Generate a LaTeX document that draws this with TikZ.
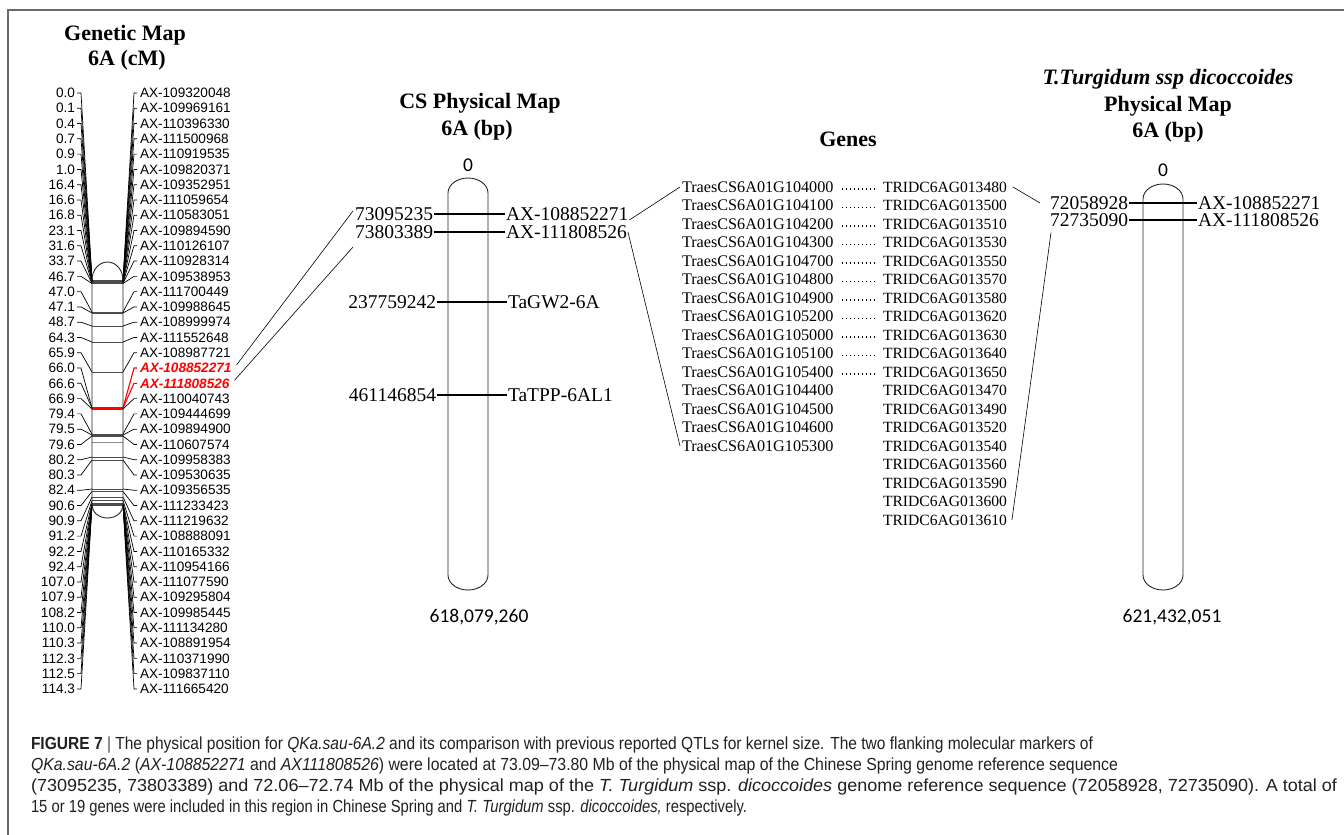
\documentclass[tikz,border=0pt]{standalone}
\usepackage{fontspec}
\usepackage{graphicx}
\setmainfont{Liberation Serif}
\newfontfamily\arialf{Liberation Sans}
\newfontfamily\calf{Carlito}
\newsavebox\capbox
\newcommand{\fitto}[2]{\sbox\capbox{#2}\pgfmathsetmacro{\fitsc}{#1/\the\wd\capbox}\scalebox{\fitsc}[1]{\usebox\capbox}}
\definecolor{framec}{HTML}{6A6A6A}
\definecolor{capc}{HTML}{231F20}
\tikzset{
 gtitle/.style={font=\fontsize{22}{26}\selectfont\bfseries},
 gmlab/.style={font=\arialf\fontsize{13.6}{14}\selectfont},
 gmred/.style={font=\arialf\fontsize{13.6}{14}\selectfont\bfseries\itshape, text=red},
 conn/.style={line width=0.7pt},
 redconn/.style={line width=1.1pt, draw=red},
 band/.style={draw=black!70, line width=0.7pt},
 pmlab/.style={font=\fontsize{19.5}{20}\selectfont},
 pmline/.style={line width=1.8pt},
 geneL/.style={font=\fontsize{16.2}{17}\selectfont},
 geneR/.style={font=\fontsize{15.6}{17}\selectfont},
 genedots/.style={line width=1.5pt, dash pattern=on 1.5pt off 2.5pt},
 chrom/.style={draw=black!85, line width=0.9pt},
 ends/.style={font=\calf\fontsize{19.5}{20}\selectfont},
 link/.style={line width=0.6pt},
 captxt/.style={font=\arialf\fontsize{17.5}{19}\selectfont, text=capc, anchor=base west},
}
\begin{document}
\begin{tikzpicture}[x=1pt,y=-1pt, every node/.style={inner sep=0pt, outer sep=0pt}]
\useasboundingbox (0,0) rectangle (1344,835);
\draw[framec, line width=1.2pt] (1344,10) -- (8,10) -- (8,835);

% ---------- Genetic map ----------
\node[gtitle] (gmt1) at (125,35) {Genetic Map};
\node[gtitle] (gmt2) at (127,60) {6A (cM)};

\foreach \cm/\ax/\p [count=\i from 0] in {
0.0/AX-109320048/280.5, 0.1/AX-109969161/280.75, 0.4/AX-110396330/281, 0.7/AX-111500968/281.25,
0.9/AX-110919535/281.5, 1.0/AX-109820371/281.75, 16.4/AX-109352951/282, 16.6/AX-111059654/282.25,
16.8/AX-110583051/282.5, 23.1/AX-109894590/282.75, 31.6/AX-110126107/283, 33.7/AX-110928314/283.25,
46.7/AX-109538953/283.5, 47.0/AX-111700449/312, 47.1/AX-109988645/313, 48.7/AX-108999974/326,
64.3/AX-111552648/342, 65.9/AX-108987721/372, 66.0/AX-108852271/408, 66.6/AX-111808526/408,
66.9/AX-110040743/409, 79.4/AX-109444699/434, 79.5/AX-109894900/435, 79.6/AX-110607574/436,
80.2/AX-109958383/457, 80.3/AX-109530635/460, 82.4/AX-109356535/489, 90.6/AX-111233423/491.5,
90.9/AX-111219632/497, 91.2/AX-108888091/500.5, 92.2/AX-110165332/503, 92.4/AX-110954166/504,
107.0/AX-111077590/504.5, 107.9/AX-109295804/505, 108.2/AX-109985445/505, 110.0/AX-111134280/505,
110.3/AX-108891954/505, 112.3/AX-110371990/505, 112.5/AX-109837110/505, 114.3/AX-111665420/505}{
  \pgfmathsetmacro\yy{93+15.28*\i}
  \def\st{gmlab}\def\cst{conn}
  \ifnum\i=18 \def\st{gmred}\def\cst{redconn}\fi
  \ifnum\i=19 \def\st{gmred}\def\cst{redconn}\fi
  \node[gmlab, anchor=east] (L\i) at (75,\yy) {\cm};
  \node[\st, anchor=west] (R\i) at (140,\yy) {\ax};
  \coordinate (cl\i) at (92,\p);
  \coordinate (cr\i) at (123,\p);
  \draw[band] (cl\i) -- (cr\i);
  \draw[conn] ([xshift=2pt]L\i.east) -- ++(4,0) -- (cl\i);
  \draw[\cst] ([xshift=-3pt]R\i.west) -- ++(-3,0) -- (cr\i);
}
\coordinate (ex1) at (92,442); \coordinate (ex2) at (123,442);
\draw[band, draw=black!45] (ex1) -- (ex2);
\draw[red, line width=2.2pt] (cl19) -- (cr19);
\draw[chrom] (92,505) -- (92,280) arc[start angle=180,end angle=360,x radius=15.5,y radius=18]
  -- (123,505) arc[start angle=0,end angle=180,x radius=15.5,y radius=13];

% ---------- CS physical map ----------
\node[gtitle] (cst1) at (480,103) {CS Physical Map};
\node[gtitle] (cst2) at (477,130) {6A (bp)};
\draw[chrom] (448,575) -- (448,193) arc[start angle=180,end angle=360,x radius=20,y radius=15]
  -- (488,575) arc[start angle=0,end angle=180,x radius=20,y radius=15];
\node[ends] (cs0) at (468,165) {0};
\node[ends] (csend) at (479,617) {618,079,260};

\node[pmlab, anchor=east] (cs1l) at (433,214) {73095235};
\node[pmlab, anchor=west] (cs1r) at (506,214) {AX-108852271};
\node[pmlab, anchor=east] (cs2l) at (433,232) {73803389};
\node[pmlab, anchor=west] (cs2r) at (506,232) {AX-111808526};
\node[pmlab, anchor=east] (cs3l) at (436,302) {237759242};
\node[pmlab, anchor=west] (cs3r) at (508,302) {TaGW2-6A};
\node[pmlab, anchor=east] (cs4l) at (436,395) {461146854};
\node[pmlab, anchor=west] (cs4r) at (508,395) {TaTPP-6AL1};
\draw[pmline] ([xshift=1pt]cs1l.east) -- ([xshift=-1pt]cs1r.west);
\draw[pmline] ([xshift=1pt]cs2l.east) -- ([xshift=-1pt]cs2r.west);
\draw[pmline] ([xshift=1pt]cs3l.east) -- ([xshift=-1pt]cs3r.west);
\draw[pmline] ([xshift=1pt]cs4l.east) -- ([xshift=-1pt]cs4r.west);

% links genetic -> CS
\draw[link] ([xshift=5pt,yshift=3pt]R18.east) -- ([xshift=-2pt,yshift=3pt]cs1l.west);
\draw[link] ([xshift=5pt,yshift=3pt]R19.east) -- ([xshift=-2pt,yshift=-15pt]cs2l.west);

% ---------- Genes ----------
\node[gtitle] (gt) at (848,139) {Genes};
\foreach \g [count=\k from 0] in {104000,104100,104200,104300,104700,104800,104900,105200,105000,105100,105400,104400,104500,104600,105300}{
  \pgfmathsetmacro\yy{187+18.5*\k}
  \node[geneL, anchor=west] (gl\k) at (682,\yy) {TraesCS6A01G\g};
}
\foreach \g [count=\k from 0] in {013480,013500,013510,013530,013550,013570,013580,013620,013630,013640,013650,013470,013490,013520,013540,013560,013590,013600,013610}{
  \pgfmathsetmacro\yy{187+18.5*\k}
  \node[geneR, anchor=west] (gr\k) at (883,\yy) {TRIDC6AG\g};
}
\foreach \k in {0,...,10}{
  \draw[genedots] ([xshift=8pt,yshift=-2pt]gl\k.east) -- ([xshift=-9pt,yshift=-2pt]gr\k.west);
}
\draw[link] ([xshift=1pt,yshift=-6pt]cs1r.east) -- ([xshift=-2pt]gl0.west);
\draw[link] ([xshift=1pt]cs2r.east) -- ([xshift=-2pt]gl14.west);

% ---------- T. turgidum physical map ----------
\node[gtitle, font=\fontsize{22}{26}\selectfont\bfseries\itshape] (tt1) at (1168,79) {T.Turgidum ssp dicoccoides};
\node[gtitle] (tt2) at (1168,106) {Physical Map};
\node[gtitle] (tt3) at (1168,132) {6A (bp)};
\draw[chrom] (1143,575) -- (1143,199) arc[start angle=180,end angle=360,x radius=20,y radius=15]
  -- (1183,575) arc[start angle=0,end angle=180,x radius=20,y radius=15];
\node[ends] (tt0) at (1163,170) {0};
\node[ends] (ttend) at (1172,617) {621,432,051};
\node[pmlab, anchor=east] (tm1l) at (1128,203) {72058928};
\node[pmlab, anchor=west] (tm1r) at (1198,203) {AX-108852271};
\node[pmlab, anchor=east] (tm2l) at (1128,220) {72735090};
\node[pmlab, anchor=west] (tm2r) at (1198,220) {AX-111808526};
\draw[pmline] ([xshift=1pt]tm1l.east) -- ([xshift=-1pt]tm1r.west);
\draw[pmline] ([xshift=1pt]tm2l.east) -- ([xshift=-1pt]tm2r.west);
\draw[link] ([xshift=6pt]gr0.east) -- ([xshift=-10pt]tm1l.west);
\draw[link] ([xshift=5pt]gr18.east) -- ([xshift=1pt,yshift=-6pt]tm2l.south west);

% ---------- Caption ----------
\node[captxt] (c1) at (31,749) {\fitto{1062}{\textbf{FIGURE 7} \textcolor{black!70}{|} The physical position for \textit{QKa.sau-6A.2} and its comparison with previous reported QTLs for kernel size. The two flanking molecular markers of}};
\node[captxt] (c2) at (31,770) {\fitto{1087}{\textit{QKa.sau-6A.2} (\textit{AX-108852271} and \textit{AX111808526}) were located at 73.09–73.80 Mb of the physical map of the Chinese Spring genome reference sequence}};
\node[captxt] (c3) at (31,791) {\fitto{1306}{(73095235, 73803389) and 72.06–72.74 Mb of the physical map of the \textit{T. Turgidum} ssp. \textit{dicoccoides} genome reference sequence (72058928, 72735090). A total of}};
\node[captxt] (c4) at (31,812) {\fitto{716}{15 or 19 genes were included in this region in Chinese Spring and \textit{T. Turgidum} ssp. \textit{dicoccoides,} respectively.}};
\end{tikzpicture}
\end{document}
